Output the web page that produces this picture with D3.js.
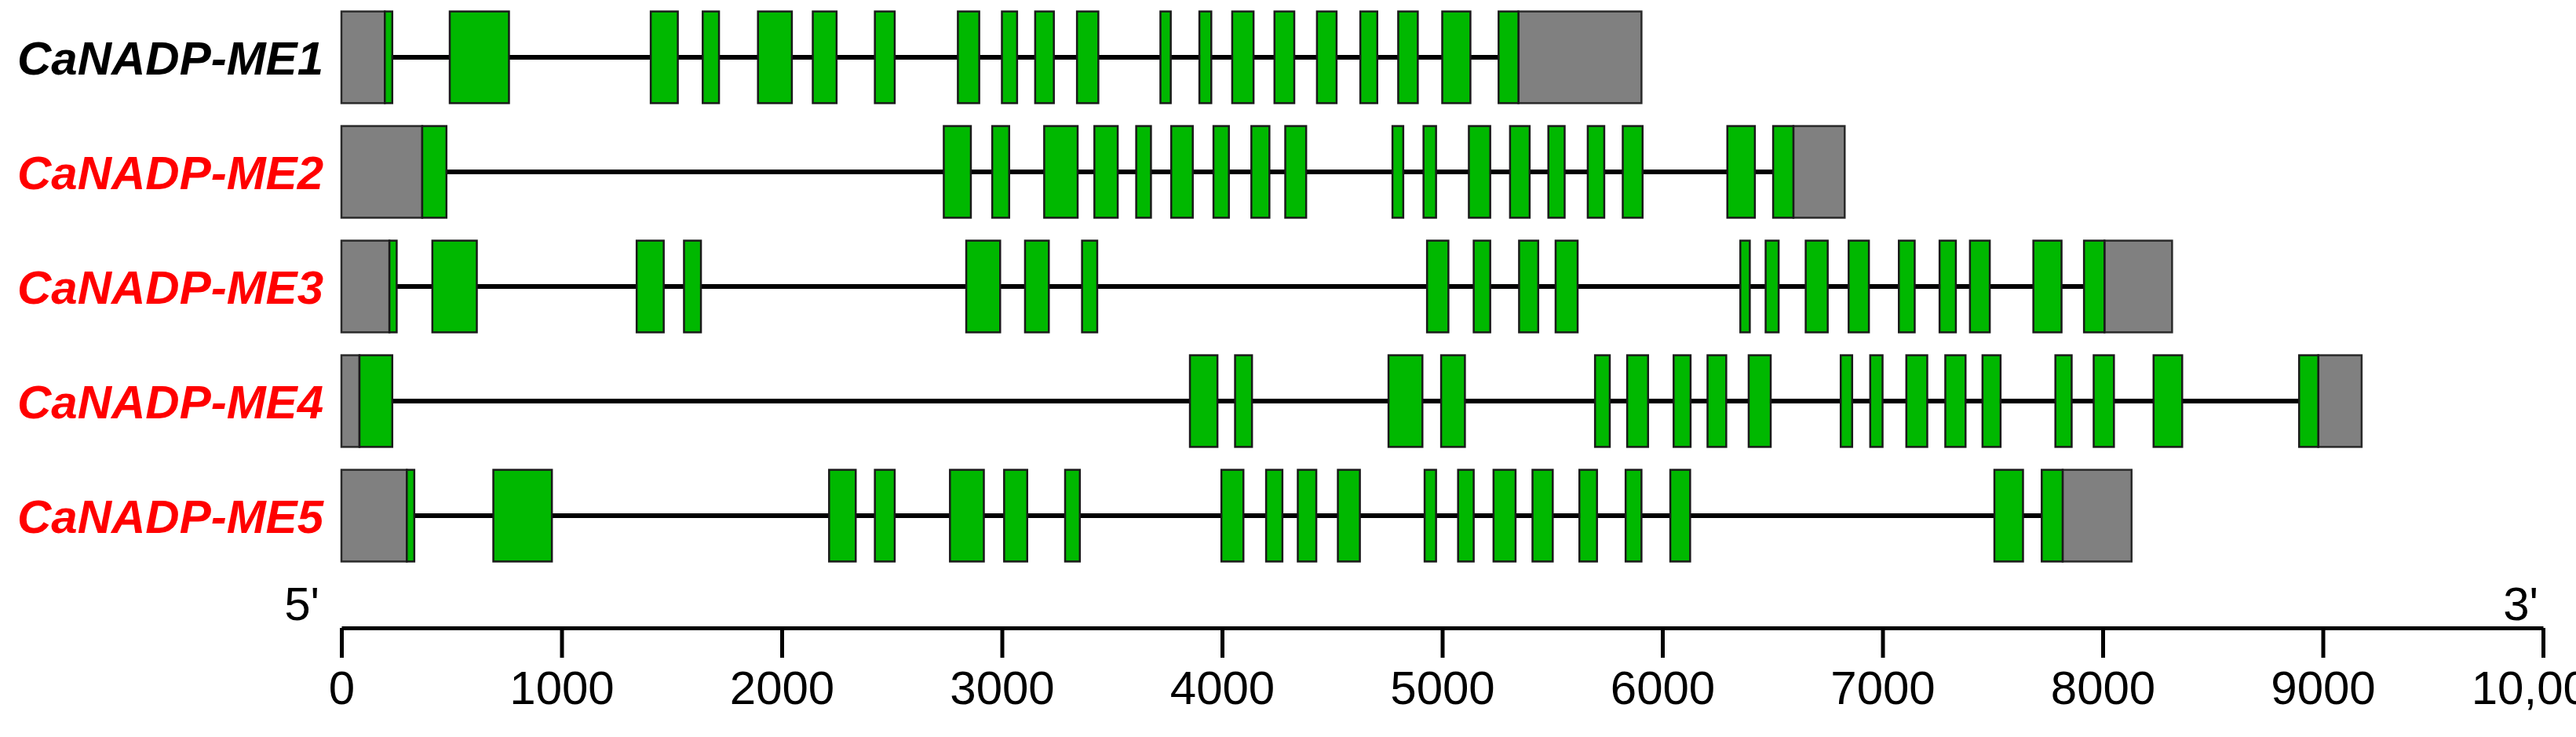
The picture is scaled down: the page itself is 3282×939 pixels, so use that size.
<!DOCTYPE html>
<html><head><meta charset="utf-8">
<script src="https://cdn.jsdelivr.net/npm/d3@7"></script>
<style>body{margin:0;background:#fff}</style></head>
<body><svg id="c" width="3282" height="939"></svg>
<script>
const genes = ["CaNADP-ME1","CaNADP-ME2","CaNADP-ME3","CaNADP-ME4","CaNADP-ME5"];
const geneColors = ["#000","#ff0000","#ff0000","#ff0000","#ff0000"];
const geneLength = [5905, 6828, 8315, 9176, 8131];
const utr5 = [[0,197],[0,367],[0,218],[0,82],[0,297]];
const utr3 = [[5346,5905],[6595,6828],[8008,8315],[8979,9176],[7818,8131]];
const cdsME1 = [[197,231],[492,761],[1405,1528],[1641,1715],[1892,2046],[2141,2249],[2423,2513],[2800,2897],[3000,3069],[3151,3236],[3341,3438],[3720,3767],[3897,3951],[4046,4143],[4238,4328],[4431,4520],[4628,4705],[4800,4889],[5000,5128],[5256,5346]];
const cdsME2 = [[367,477],[2736,2859],[2956,3033],[3192,3344],[3420,3526],[3610,3677],[3769,3867],[3961,4031],[4133,4215],[4287,4382],[4774,4823],[4915,4972],[5121,5218],[5308,5397],[5482,5556],[5661,5736],[5820,5910],[6295,6420],[6503,6595]];
const cdsME3 = [[218,251],[413,615],[1341,1464],[1556,1633],[2838,2992],[3105,3213],[3364,3433],[4931,5028],[5143,5218],[5349,5436],[5515,5615],[6354,6397],[6469,6528],[6651,6751],[6846,6938],[7074,7146],[7259,7333],[7397,7487],[7685,7813],[7915,8008]];
const cdsME4 = [[82,231],[3854,3979],[4059,4136],[4756,4910],[4995,5103],[5694,5761],[5840,5935],[6051,6128],[6205,6290],[6392,6492],[6810,6862],[6944,7000],[7108,7203],[7285,7377],[7454,7536],[7785,7859],[7959,8051],[8231,8361],[8892,8979]];
const cdsME5 = [[297,331],[690,956],[2215,2336],[2423,2513],[2764,2918],[3010,3115],[3287,3354],[3997,4097],[4200,4274],[4344,4428],[4526,4626],[4920,4972],[5072,5143],[5233,5333],[5410,5502],[5623,5703],[5833,5905],[6036,6126],[7508,7638],[7723,7818]];
const cds = [cdsME1,cdsME2,cdsME3,cdsME4,cdsME5];
const tickValues = [0,1000,2000,3000,4000,5000,6000,7000,8000,9000,10000];
const tickLabels = ["0","1000","2000","3000","4000","5000","6000","7000","8000","9000","10,000"];

const svg = d3.select("#c");
const x = d3.scaleLinear().domain([0,10000]).range([435,3240]);
const y = d3.scaleBand().domain(genes).range([0,730]).paddingInner(0.2).paddingOuter(0.1);
const bh = y.bandwidth();
const narrow = "Liberation Sans Narrow, Arial Narrow, Liberation Sans, sans-serif";

genes.forEach((g,i)=>{
  const cy = y(g)+bh/2;
  const grp = svg.append("g");
  grp.append("line").attr("x1",x(0)).attr("x2",x(geneLength[i])).attr("y1",cy).attr("y2",cy)
    .attr("stroke","#000").attr("stroke-width",6);
  [utr5[i],utr3[i]].forEach(u=>{
    grp.append("rect").attr("x",x(u[0])).attr("y",y(g)).attr("width",x(u[1])-x(u[0])).attr("height",bh)
      .attr("fill","#808080").attr("stroke","#2a2a2a").attr("stroke-width",2.5);
  });
  grp.selectAll("rect.cds").data(cds[i]).enter().append("rect").attr("class","cds")
    .attr("x",d=>x(d[0])).attr("y",y(g)).attr("width",d=>x(d[1])-x(d[0])).attr("height",bh)
    .attr("fill","#00b800").attr("stroke","#1a1a1a").attr("stroke-width",2.5);
  svg.append("text").attr("x",412).attr("y",cy).attr("dy","0.36em").attr("text-anchor","end")
    .attr("font-family","Liberation Sans, Arial, sans-serif").attr("font-weight","bold").attr("font-style","italic")
    .attr("font-size",60).attr("fill",geneColors[i]).text(g);
});

const axisY = 800;
const ax = svg.append("g").attr("transform",`translate(0,${axisY})`)
  .call(d3.axisBottom(x).tickValues(tickValues).tickFormat((d,i)=>tickLabels[i]).tickSize(38).tickSizeOuter(0).tickPadding(16));
ax.select(".domain").attr("stroke","#000").attr("stroke-width",5);
ax.selectAll(".tick line").attr("stroke","#000").attr("stroke-width",5);
ax.selectAll(".tick text").attr("font-family",narrow).attr("font-size",60).attr("fill","#000");
svg.append("text").attr("x",x(0)-28).attr("y",axisY-10).attr("text-anchor","end")
  .attr("font-family",narrow).attr("font-size",60).text("5'");
svg.append("text").attr("x",x(10000)-6).attr("y",axisY-10).attr("text-anchor","end")
  .attr("font-family",narrow).attr("font-size",60).text("3'");
</script></body></html>
